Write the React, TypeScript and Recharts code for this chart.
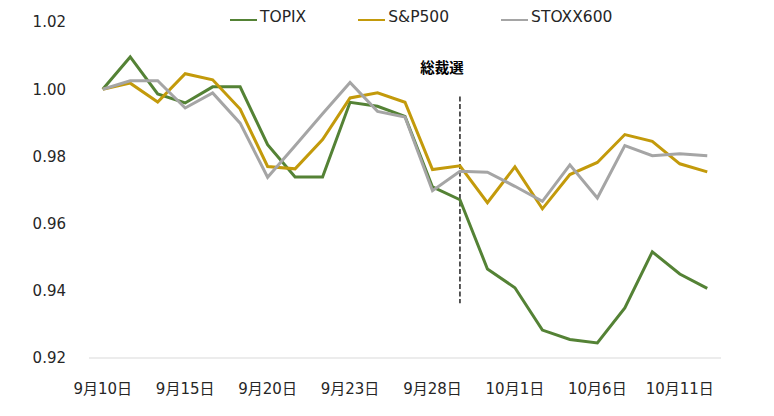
import React from 'react';
import { LineChart, Line, XAxis, YAxis, Legend, ReferenceLine } from 'recharts';

const categories = [
  '9月10日', '9月13日', '9月14日', '9月15日', '9月16日', '9月17日', '9月20日', '9月21日',
  '9月22日', '9月23日', '9月24日', '9月27日', '9月28日', '9月29日', '9月30日', '10月1日',
  '10月4日', '10月5日', '10月6日', '10月7日', '10月8日', '10月11日', '10月12日',
];

const topix = [
  1.0, 1.0096, 0.9986, 0.9959, 1.0007, 1.0007, 0.9835, 0.9739, 0.9739, 0.9961, 0.9949, 0.9919,
  0.9709, 0.9671, 0.9465, 0.9409, 0.9283, 0.9255, 0.9245, 0.9349, 0.9516, 0.945, 0.9407,
];

const sp500 = [
  1.0, 1.0018, 0.9962, 1.0046, 1.0028, 0.9941, 0.977, 0.9763, 0.985, 0.9974, 0.9989, 0.9961,
  0.9761, 0.9772, 0.9662, 0.9769, 0.9644, 0.9746, 0.9782, 0.9865, 0.9845, 0.9778, 0.9754,
];

const stoxx600 = [
  1.0, 1.0025, 1.0025, 0.9944, 0.9989, 0.9899, 0.9738, 0.9832, 0.9927, 1.002, 0.9934, 0.9917,
  0.9698, 0.9756, 0.9753, 0.9711, 0.9666, 0.9775, 0.9676, 0.9832, 0.9802, 0.9808, 0.9802,
];

const yTicks = [0.92, 0.94, 0.96, 0.98, 1.0, 1.02];
const labelEvery = 3;
const eventCategory = '9月29日';
const eventLabel = '総裁選';
const eventRange = [0.9978, 0.9363];

const series = [
  { key: 'TOPIX', values: topix, color: '#548235' },
  { key: 'S&P500', values: sp500, color: '#C39A0B' },
  { key: 'STOXX600', values: stoxx600, color: '#A5A5A5' },
];

const data = categories.map((c, i) => {
  const row: Record<string, any> = { date: c, idx: i + 0.5 };
  series.forEach((s) => {
    row[s.key] = s.values[i];
  });
  return row;
});

const boundaryTicks = categories.map((_, i) => i).concat([categories.length]);
const FONT = "'DejaVu Sans', 'Noto Sans CJK JP', sans-serif";
const TEXT = '#262626';

const LegendContent = () => (
  <div style={{ display: 'flex', alignItems: 'center', fontFamily: FONT, fontSize: 15.5, color: TEXT }}>
    {series.map((s) => (
      <div key={s.key} style={{ display: 'flex', alignItems: 'center', marginRight: 52 }}>
        <svg width={27} height={10} style={{ marginTop: 6 }}>
          <line x1={0} y1={5} x2={27} y2={5} stroke={s.color} strokeWidth={2} />
        </svg>
        <span style={{ marginLeft: 3 }}>{s.key}</span>
      </div>
    ))}
  </div>
);

const YTick = (props: any) => {
  const { x, y, payload } = props;
  return (
    <text x={x} y={y} dy="0.36em" textAnchor="end" fontFamily={FONT} fontSize={15} fill={TEXT}>
      {Number(payload.value).toFixed(2)}
    </text>
  );
};

const EventLabel = (props: any) => {
  const vb = props.viewBox || {};
  return (
    <text x={vb.x - 18} y={vb.y - 24} textAnchor="middle" fontFamily={FONT} fontSize={14.5} fontWeight="bold" fill="#000">
      {eventLabel}
    </text>
  );
};

export default function App() {
  return (
    <LineChart width={766} height={400} data={data} margin={{ top: 14, right: 53, bottom: 0, left: 0 }}>
      <XAxis
        xAxisId="axisB"
        dataKey="date"
        type="category"
        scale="band"
        interval={labelEvery - 1}
        height={44}
        tickSize={0}
        tickMargin={19}
        axisLine={false}
        tickLine={false}
        tick={{ fontFamily: FONT, fontSize: 15, fill: TEXT }}
      />
      <XAxis
        xAxisId="axisA"
        type="number"
        dataKey="idx"
        domain={[0, categories.length]}
        ticks={boundaryTicks}
        allowDataOverflow
        tick={false}
        height={6}
        tickSize={6}
        axisLine={{ stroke: '#D9D9D9' }}
        tickLine={{ stroke: '#D9D9D9' }}
      />
      <YAxis
        domain={[0.92, 1.02]}
        ticks={yTicks}
        width={81}
        tickSize={0}
        tickMargin={23}
        axisLine={false}
        tickLine={false}
        tick={<YTick />}
      />
      <Legend
        verticalAlign="middle"
        align="center"
        content={<LegendContent />}
        wrapperStyle={{ top: 0, left: 222, width: 520, height: 22 }}
      />
      <ReferenceLine
        xAxisId="axisB"
        segment={[
          { x: eventCategory, y: eventRange[0] },
          { x: eventCategory, y: eventRange[1] },
        ]}
        stroke="#000"
        strokeWidth={1.3}
        strokeDasharray="5 2.5"
        label={<EventLabel />}
      />
      {series.map((s) => (
        <Line
          key={s.key}
          xAxisId="axisB"
          dataKey={s.key}
          name={s.key}
          stroke={s.color}
          strokeWidth={3}
          dot={false}
          activeDot={false}
          isAnimationActive={false}
        />
      ))}
    </LineChart>
  );
}
